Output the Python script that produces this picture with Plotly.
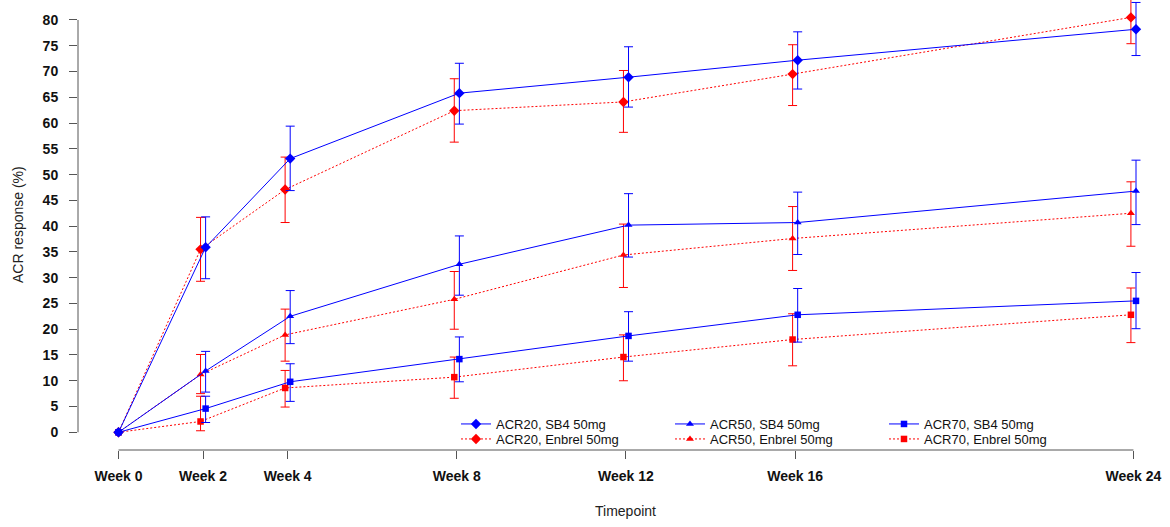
import numpy as np
import plotly.graph_objects as go

weeks = [0, 2, 4, 8, 12, 16, 24]
week_labels = ["Week 0", "Week 2", "Week 4", "Week 8", "Week 12", "Week 16", "Week 24"]
y_ticks = list(range(0, 85, 5))

nan = None
# SB4 50mg
sb4_acr20 = [0, 35.9, 53.1, 65.8, 68.9, 72.2, 78.2]
sb4_acr20_lo = [nan, 29.8, 46.9, 59.8, 63.1, 66.6, 73.1]
sb4_acr20_hi = [nan, 41.8, 59.4, 71.6, 74.8, 77.7, 83.4]
sb4_acr50 = [0, 11.9, 22.5, 32.6, 40.2, 40.7, 46.8]
sb4_acr50_lo = [nan, 7.8, 17.2, 26.6, 34.0, 34.5, 40.3]
sb4_acr50_hi = [nan, 15.7, 27.5, 38.1, 46.3, 46.6, 52.8]
sb4_acr70 = [0, 4.6, 9.8, 14.2, 18.7, 22.8, 25.5]
sb4_acr70_lo = [nan, 1.9, 6.0, 9.8, 13.8, 17.5, 20.1]
sb4_acr70_hi = [nan, 7.0, 13.3, 18.5, 23.4, 27.9, 31.0]
# Enbrel 50mg
enb_acr20 = [0, 35.5, 47.1, 62.4, 64.1, 69.5, 80.5]
enb_acr20_lo = [nan, 29.3, 40.7, 56.3, 58.2, 63.4, 75.4]
enb_acr20_hi = [nan, 41.7, 53.4, 68.6, 70.2, 75.2, 85.6]
enb_acr50 = [0, 11.2, 18.9, 25.8, 34.4, 37.6, 42.5]
enb_acr50_lo = [nan, 7.5, 13.8, 20.0, 28.1, 31.4, 36.1]
enb_acr50_hi = [nan, 15.1, 23.9, 31.2, 40.4, 43.8, 48.6]
enb_acr70 = [0, 2.1, 8.6, 10.7, 14.6, 18.0, 22.8]
enb_acr70_lo = [nan, 0.3, 4.9, 6.6, 10.0, 12.9, 17.4]
enb_acr70_hi = [nan, 7.0, 12.0, 14.6, 18.9, 23.0, 28.0]

def arr(a):
    return np.array([np.nan if v is None else v for v in a], dtype=float)

FONT = "Liberation Sans, Arial, sans-serif"
BLUE = "#0000FF"
RED = "#FF0000"
dodge = 0.06
wk = np.array(weeks, dtype=float)
shift = np.where(wk > 0, 1.0, 0.0)

L, R, T, B = 78, 0, 0, 77
W, H = 1170, 527
pw = W - L - R
ph = H - T - B

def xp(px):
    return (px - L) / pw

def yp(py):
    return (ph + T - py) / ph

# legend slots: (text x px, row centre y px)
col_text_x = [496, 710, 924]
row_y = [424, 439]

series = [
    # name, values, lo, hi, color, dash, symbol, side, col, row, size
    ("ACR20, Enbrel 50mg", enb_acr20, enb_acr20_lo, enb_acr20_hi, RED, "2px,2px", "diamond", -1, 0, 1, 8),
    ("ACR50, Enbrel 50mg", enb_acr50, enb_acr50_lo, enb_acr50_hi, RED, "2px,2px", "triangle-up", -1, 1, 1, 7),
    ("ACR70, Enbrel 50mg", enb_acr70, enb_acr70_lo, enb_acr70_hi, RED, "2px,2px", "square", -1, 2, 1, 6.5),
    ("ACR20, SB4 50mg", sb4_acr20, sb4_acr20_lo, sb4_acr20_hi, BLUE, "solid", "diamond", 1, 0, 0, 8),
    ("ACR50, SB4 50mg", sb4_acr50, sb4_acr50_lo, sb4_acr50_hi, BLUE, "solid", "triangle-up", 1, 1, 0, 7),
    ("ACR70, SB4 50mg", sb4_acr70, sb4_acr70_lo, sb4_acr70_hi, BLUE, "solid", "square", 1, 2, 0, 6.5),
]

fig = go.Figure()
legend_layouts = {}
for i, (name, vals, lo, hi, color, dash, sym, side, col, row, size) in enumerate(series):
    v = arr(vals)
    plus = arr(hi) - v
    minus = v - arr(lo)
    leg = "legend" if i == 0 else f"legend{i + 1}"
    fig.add_trace(go.Scatter(
        x=wk + side * dodge * shift,
        y=v,
        mode="lines+markers",
        name=name,
        legend=leg,
        showlegend=True,
        line=dict(color=color, width=1, dash=dash),
        marker=dict(symbol=sym, size=size, color=color, line=dict(width=0)),
        error_y=dict(type="data", symmetric=False, array=plus, arrayminus=minus,
                     color=color, thickness=1, width=4.5),
    ))
    legend_layouts[leg] = dict(
        x=xp(col_text_x[col] - 40), y=yp(row_y[row] - 15),
        orientation="v", yanchor="top", xanchor="left",
        bgcolor="rgba(0,0,0,0)", borderwidth=0,
        font=dict(family=FONT, size=13, color="#111111"),
    )

px_per_week = 42.29
x0_px = 118.5
xmin = -(x0_px - L) / px_per_week
xmax = xmin + pw / px_per_week
px_per_unit = 5.154
y0_px = 432.3
ymin = -(ph + T - y0_px) / px_per_unit
ymax = ymin + ph / px_per_unit

AX = "#555555"
fig.update_layout(
    width=W, height=H,
    showlegend=True,
    margin=dict(l=L, r=R, t=T, b=B, autoexpand=False),
    paper_bgcolor="white", plot_bgcolor="white",
    font=dict(family=FONT, color="#000000"),
    xaxis=dict(range=[xmin, xmax], tickvals=weeks, ticktext=week_labels,
               showgrid=False, zeroline=False, showline=False,
               ticks="outside", ticklen=8, tickcolor=AX, tickwidth=1,
               tickfont=dict(family=FONT, size=14, weight="bold", color="#111111"),
               ticklabelstandoff=5),
    yaxis=dict(range=[ymin, ymax], tickvals=y_ticks,
               showgrid=False, zeroline=False, showline=False,
               ticks="outside", ticklen=8, tickcolor=AX, tickwidth=1,
               tickfont=dict(family=FONT, size=14, weight="bold", color="#111111"),
               ticklabelstandoff=8),
    shapes=[
        dict(type="line", xref="paper", yref="y", x0=0, x1=0, y0=0, y1=80,
             line=dict(color=AX, width=1)),
        dict(type="line", xref="x", yref="paper", x0=0, x1=24, y0=0, y1=0,
             line=dict(color=AX, width=1)),
    ],
    annotations=[
        dict(text="Timepoint", xref="paper", yref="paper", x=xp(625), y=yp(511),
             xanchor="center", yanchor="middle", showarrow=False,
             font=dict(family=FONT, size=14, color="#222222")),
        dict(text="ACR response (%)", xref="paper", yref="paper", x=xp(18), y=yp(225),
             xanchor="center", yanchor="middle", textangle=-90, showarrow=False,
             font=dict(family=FONT, size=14, color="#222222")),
    ],
    **legend_layouts,
)

fig.write_html(
    "out.html",
    config={"displayModeBar": False},
    post_script="document.body.style.margin='0px';document.body.style.overflow='hidden';",
)
